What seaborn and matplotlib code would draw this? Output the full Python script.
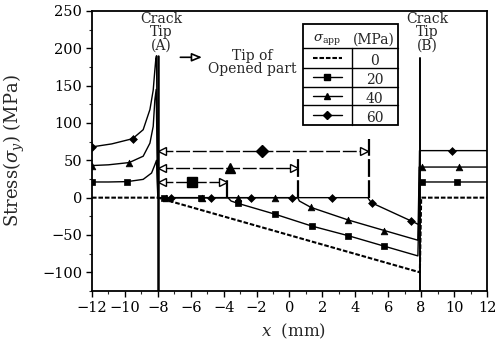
import matplotlib
matplotlib.use("Agg")
import matplotlib.pyplot as plt
import seaborn as sns
from matplotlib.ticker import MultipleLocator
from matplotlib.patches import Rectangle
from matplotlib.lines import Line2D

sns.set_style("ticks")
plt.rcParams['font.family'] = ['DejaVu Serif']
plt.rcParams['mathtext.fontset'] = 'dejavuserif'

# ---- data (x in mm, stress in MPa) ----
s0_x = [-12, -8.0, 7.92, 8.0, 12]
s0_y = [0, 0, -100, 0, 0]

s20_x = [-12, -11, -9.85, -8.89, -8.38, -8.18, -8.08, -8.0, -3.74, -3.55, -3.15,
         -0.9, 1.35, 3.58, 5.76, 7.8, 7.9, 12]
s20_y = [21, 21, 21.5, 24.5, 33, 44, 50, 0, 0, -4.5, -7.5,
         -22, -38, -51, -65, -78, 21, 21]

s40_x = [-12, -11, -9.74, -8.89, -8.48, -8.28, -8.18, -8.1, -8.0, 0.5, 0.6, 1.3,
         3.58, 5.76, 7.8, 7.88, 12]
s40_y = [43, 44, 47, 55.5, 73, 95.5, 131, 145, 0, 0, -4.5, -13,
         -30, -44, -57, 41, 41]

s60_x = [-12, -10.8, -9.53, -8.89, -8.48, -8.28, -8.18, -8.12, -8.08, -8.0, 4.76,
         4.88, 5.0, 7.37, 7.85, 7.9, 12]
s60_y = [68, 72, 79, 91, 118, 144, 171, 186, 190, 0, 0,
         -4, -7, -31, -36, 63, 63]

# marker positions along each curve
m20_x = [-12, -9.85, -7.6, -5.4, -3.15, -0.9, 1.35, 3.58, 5.76, 8.08, 10.2]
m20_y = [21, 21.5, 0, 0, -7.5, -22, -38, -51, -65, 21, 21]
m40_x = [-12, -9.74, -7.5, -5.3, -3.1, -0.9, 1.3, 3.58, 5.76, 8.08, 10.27]
m40_y = [43, 47, 0, 0, 0, 0, -13, -30, -44, 41, 41]
m60_x = [-12, -9.53, -7.17, -4.75, -2.32, 0.16, 2.6, 5.0, 7.37, 9.86]
m60_y = [68, 79, 0, 0, 0, 0, 0, -7, -31, 63]

# opened-part arrows: tip position, arrow level, height of the dashed marker line
opened_tip = [-3.8, 0.5, 4.8]
arrow_level = [21.5, 39.5, 62.5]
arrow_mark_x = [-5.9, -3.6, -1.7]
tip_line_top = [27, 56, 78]

crack_x = [-8.0, 7.95]
crack_top = [190, 187]

applied = ["0", "20", "40", "60"]
markers = [None, "s", "^", "D"]
msizes = [0, 3.8, 4.8, 4.0]
arrow_msizes = [7.5, 7.0, 6.5]

fig, ax = plt.subplots(figsize=(5.04, 3.47), dpi=100)
fig.subplots_adjust(left=0.1825, right=0.9663, bottom=0.1614, top=0.9683)

# curves
sns.lineplot(x=s0_x, y=s0_y, sort=False, estimator=None, color="black",
             lw=1.5, linestyle=(0, (2.2, 0.9)), ax=ax)
for xs, ys in [(s20_x, s20_y), (s40_x, s40_y), (s60_x, s60_y)]:
    sns.lineplot(x=xs, y=ys, sort=False, estimator=None, color="black", lw=1.0, ax=ax)

for (mx, my), mk, ms in zip([(m20_x, m20_y), (m40_x, m40_y), (m60_x, m60_y)],
                            markers[1:], msizes[1:]):
    sns.scatterplot(x=mx, y=my, marker=mk, s=ms ** 2, color="black",
                    edgecolor="black", linewidth=0.5, zorder=5, ax=ax)

# crack tips
for cx, ct, lw in zip(crack_x, crack_top, [1.8, 1.4]):
    ax.plot([cx, cx], [-125, ct], color="black", lw=lw, zorder=4)

# opened-part arrows
head_off = 0.25
for tip, lev, amx, top, mk, ms in zip(opened_tip, arrow_level, arrow_mark_x,
                                      tip_line_top, markers[1:], arrow_msizes):
    ax.plot([crack_x[0] + 0.1, tip - 0.1], [lev, lev], color="black", lw=1.0,
            linestyle=(0, (10, 2)), zorder=3)
    ax.plot(crack_x[0] + head_off, lev, marker="<", ms=6, mfc="white",
            mec="black", mew=1.0, zorder=6)
    ax.plot(tip - head_off, lev, marker=">", ms=6, mfc="white",
            mec="black", mew=1.0, zorder=6)
    ax.plot(amx, lev, marker=mk, ms=ms, color="black", zorder=6)
    ax.plot([tip, tip], [0, top], color="black", lw=1.6,
            linestyle=(0, (8, 1.5)), zorder=3)

# annotations
ax.text(-7.78, 249, "Crack\nTip\n(A)", ha="center", va="top", fontsize=10,
        linespacing=0.95, clip_on=False)
ax.text(8.36, 249, "Crack\nTip\n(B)", ha="center", va="top", fontsize=10,
        linespacing=0.95, clip_on=False)
ax.annotate("", xy=(-5.15, 188), xytext=(-6.8, 188),
            arrowprops=dict(arrowstyle="-|>,head_length=0.6,head_width=0.25",
                            fc="white", ec="black", lw=1.2))
ax.text(-2.24, 181, "Tip of\nOpened part", ha="center", va="center",
        fontsize=10, linespacing=0.95)

# table legend
T = ax.transAxes
L, R, D = 0.535, 0.775, 0.657
rows = [0.954, 0.868, 0.796, 0.729, 0.664, 0.593]
ax.add_patch(Rectangle((L, rows[-1]), R - L, rows[0] - rows[-1], transform=T,
                       fc="white", ec="black", lw=1.3, zorder=8))
for yy in rows[1:-1]:
    ax.add_line(Line2D([L, R], [yy, yy], transform=T, color="black", lw=1.0, zorder=9))
ax.add_line(Line2D([D, D], [rows[-1], rows[1]], transform=T, color="black", lw=1.0, zorder=9))
ax.text(0.594, 0.898, r"$\sigma_{\rm app}$", transform=T, ha="center", va="center",
        fontsize=9.5, zorder=10)
ax.text(0.714, 0.898, "(MPa)", transform=T, ha="center", va="center",
        fontsize=10, zorder=10)
for i, (lab, mk, ms) in enumerate(zip(applied, markers, msizes)):
    yc = (rows[i + 1] + rows[i + 2]) / 2
    ls = (0, (2.2, 0.9)) if mk is None else "-"
    ax.add_line(Line2D([0.559, 0.633], [yc, yc], transform=T, color="black",
                       lw=1.5 if mk is None else 1.0, linestyle=ls, zorder=10))
    if mk is not None:
        ax.add_line(Line2D([0.596], [yc], transform=T, marker=mk, ms=ms,
                           color="black", zorder=10))
    ax.text(0.716, yc - 0.01, lab, transform=T, ha="center", va="center",
            fontsize=10, zorder=10)

# axes
ax.set_xlim(-12, 12)
ax.set_ylim(-125, 250)
ax.set_xticks(range(-12, 13, 2))
ax.set_yticks(range(-100, 251, 50))
ax.xaxis.set_minor_locator(MultipleLocator(1))
ax.yaxis.set_minor_locator(MultipleLocator(25))
ax.tick_params(which="major", direction="out", length=4, width=1.0,
               labelsize=10.5, pad=3, colors="black")
ax.tick_params(which="minor", direction="out", length=2, width=0.8)
for sp in ax.spines.values():
    sp.set_linewidth(1.3)
    sp.set_color("black")

ax.set_ylabel(r"Stress$(\sigma_y)$ (MPa)", fontsize=13)
ax.yaxis.set_label_coords(-0.165, 0.5)
ax.set_xlabel(r"$x$  (mm)", fontsize=12)
ax.xaxis.set_label_coords(0.511, -0.11)

fig.savefig("out.png", dpi=100)
